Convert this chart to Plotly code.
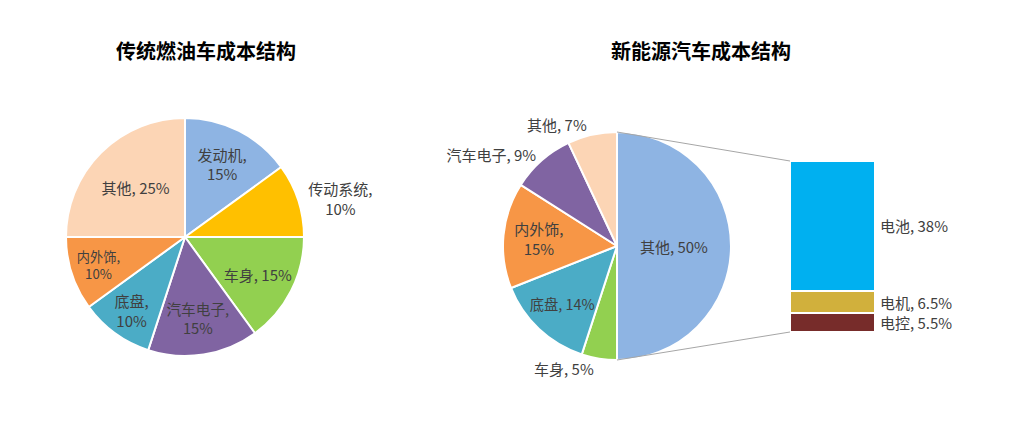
import plotly.graph_objects as go

# traditional fuel car cost structure
fuel_labels = ["发动机", "传动系统", "车身", "汽车电子", "底盘", "内外饰", "其他"]
fuel_values = [15, 10, 15, 15, 10, 10, 25]
fuel_colors = ["#8EB4E3", "#FFC000", "#92D050", "#8064A2", "#4BACC6", "#F79646", "#FCD5B5"]
fuel_textpos = ["inside", "outside", "inside", "inside", "inside", "inside", "inside"]
fuel_sep = ["<br>", "<br>", " ", "<br>", "<br>", "<br>", " "]

# new energy car cost structure
ev_labels = ["其他", "车身", "底盘", "内外饰", "汽车电子", "其他"]
ev_values = [50, 5, 14, 15, 9, 7]
ev_colors = ["#8EB4E3", "#92D050", "#4BACC6", "#F79646", "#8064A2", "#FCD5B5"]
ev_textpos = ["inside", "outside", "inside", "inside", "outside", "outside"]
ev_sep = [" ", " ", " ", "<br>", " ", " "]

# breakdown of the 50% slice (bottom to top)
bar_labels = ["电控", "电机", "电池"]
bar_values = [5.5, 6.5, 38]
bar_colors = ["#772C2A", "#D1B03C", "#00B0F0"]

W, H = 1011, 424
TXT = "#404040"
FONT = "Noto Sans CJK SC"
LBL = 15


def px(x0, x1):
    return [x0 / W, x1 / W]


def py(top, bottom):
    return [1 - bottom / H, 1 - top / H]


left_dom = dict(x=px(66, 304), y=py(118, 356))
right_dom = dict(x=px(503, 731), y=py(132, 360))
bar_x = px(790, 875)
bar_y = py(161, 332)

fig = go.Figure()

fig.add_trace(go.Pie(
    labels=fuel_labels, values=fuel_values, customdata=fuel_sep,
    sort=False, direction="clockwise", rotation=0, domain=left_dom,
    marker=dict(colors=fuel_colors, line=dict(color="white", width=2)),
    texttemplate="%{label},%{customdata}%{value}%",
    textposition=fuel_textpos, insidetextorientation="horizontal",
    textfont=dict(family=FONT, size=LBL, color=TXT),
    showlegend=False,
))

fig.add_trace(go.Pie(
    labels=[f"{l}{i}" for i, l in enumerate(ev_labels)], values=ev_values,
    customdata=list(zip(ev_labels, ev_sep)),
    sort=False, direction="clockwise", rotation=0, domain=right_dom,
    marker=dict(colors=ev_colors, line=dict(color="white", width=2)),
    texttemplate="%{customdata[0]},%{customdata[1]}%{value}%",
    textposition=ev_textpos, insidetextorientation="horizontal",
    textfont=dict(family=FONT, size=LBL, color=TXT),
    showlegend=False,
))

for lab, val, col in zip(bar_labels, bar_values, bar_colors):
    fig.add_trace(go.Bar(
        x=["ev"], y=[val], name=lab, marker=dict(color=col, line=dict(color="white", width=2)),
        showlegend=False, hoverinfo="name+y",
    ))

# labels beside the bar
cum = 0
for lab, val in zip(bar_labels, bar_values):
    mid = cum + val / 2
    cum += val
    fig.add_annotation(
        x=1.0, xref="x domain", y=mid, yref="y", xanchor="left", yanchor="middle",
        xshift=3, text=f"{lab}, {val:g}%", showarrow=False,
        font=dict(family=FONT, size=LBL, color=TXT),
    )

# connector lines from the pie to the bar
pie_cx = sum(right_dom["x"]) / 2
for py_, by_ in [(right_dom["y"][1], bar_y[1]), (right_dom["y"][0], bar_y[0])]:
    fig.add_shape(type="line", xref="paper", yref="paper",
                  x0=pie_cx, y0=py_, x1=bar_x[0], y1=by_,
                  line=dict(color="#A6A6A6", width=1))

for title, cx in [("传统燃油车成本结构", 206), ("新能源汽车成本结构", 701)]:
    fig.add_annotation(x=cx / W, y=1 - 50 / H, xref="paper", yref="paper",
                       xanchor="center", yanchor="middle",
                       text=f"<b>{title}</b>", showarrow=False,
                       font=dict(family=FONT, size=20, color="black"))

fig.update_layout(
    width=W, height=H, margin=dict(l=0, r=0, t=0, b=0),
    paper_bgcolor="white", plot_bgcolor="white",
    barmode="stack", bargap=0,
    xaxis=dict(domain=bar_x, visible=False, fixedrange=True),
    yaxis=dict(domain=bar_y, range=[0, sum(bar_values)], visible=False, fixedrange=True),
)

fig.write_html("out.html", config={"displayModeBar": False},
               post_script="document.body.style.margin='0';")
